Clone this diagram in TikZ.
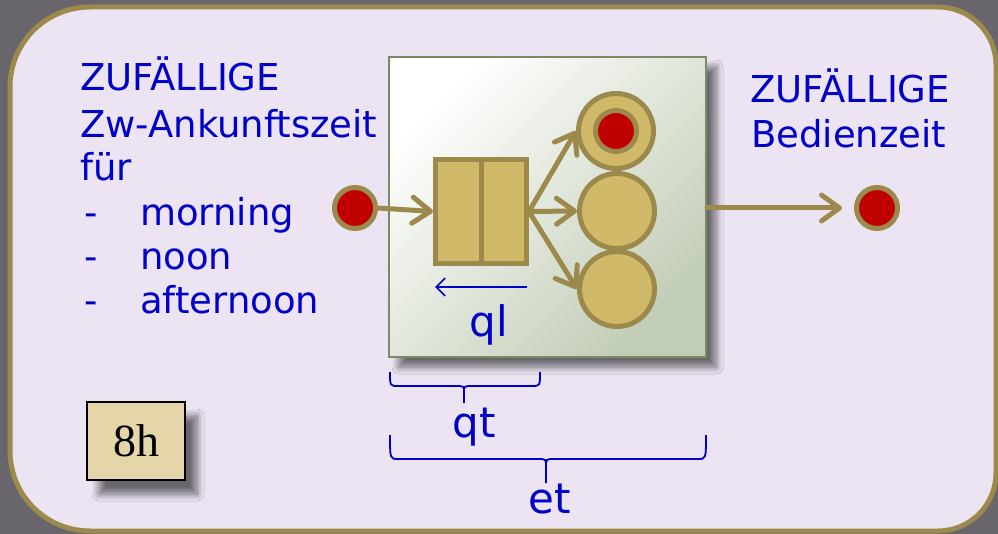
\documentclass[tikz,border=0pt]{standalone}
\usepackage{fontspec}
\newfontfamily\comic{DejaVu Sans}
\newfontfamily\tms{Liberation Serif}
\usetikzlibrary{arrows.meta,shadows.blur,calc}
\definecolor{bg}{RGB}{104,101,108}
\definecolor{panel}{RGB}{236,228,242}
\definecolor{olive}{RGB}{156,138,76}
\definecolor{gold}{RGB}{209,185,106}
\definecolor{dred}{RGB}{192,0,0}
\definecolor{tblue}{RGB}{0,0,200}
\definecolor{boxgreen}{RGB}{194,205,182}
\definecolor{boxmid}{RGB}{222,228,214}
\definecolor{boxedge}{RGB}{122,138,100}
\definecolor{tanbox}{RGB}{228,214,168}
\tikzset{
  lbl/.style={text=tblue, font=\comic\fontsize{37}{44}\selectfont, inner sep=0pt, anchor=base west},
  sym/.style={text=tblue, font=\comic\fontsize{42}{48}\selectfont, inner sep=0pt, anchor=base},
  dot/.style={circle, draw=olive, fill=dred, line width=5pt, minimum size=41pt, inner sep=0pt},
  server/.style={circle, draw=olive, fill=gold, line width=5pt, minimum size=75pt, inner sep=0pt},
  flow/.style={draw=olive, line width=5pt, line cap=round, -{Straight Barb[length=18pt,width=26pt,round]}},
  brc/.style={draw=tblue, line width=1.8pt},
}
\begin{document}
\begin{tikzpicture}[x=1pt,y=-1pt]
\useasboundingbox (0,0) rectangle (998,534);
\fill[bg] (0,0) rectangle (998,534);
\draw[draw=olive, fill=panel, line width=5pt]
  (10,87) arc[start angle=180, end angle=270, radius=80] -- (938,7)
  arc[start angle=270, end angle=360, x radius=58, y radius=58] -- (996,473)
  arc[start angle=0, end angle=90, radius=58] -- (90,531)
  arc[start angle=90, end angle=180, radius=80] -- cycle;

% main box
\node[draw=boxedge, line width=2pt, minimum width=317pt, minimum height=300pt, inner sep=0pt,
      top color=white, middle color=boxmid, bottom color=boxgreen, shading angle=45,
      blur shadow={shadow xshift=10pt, shadow yshift=-10pt, shadow blur steps=12, shadow blur radius=7pt, shadow opacity=55}]
      (box) at (547.5,207) {};

% queue
\node[draw=olive, fill=gold, line width=5pt, minimum width=91pt, minimum height=104pt, inner sep=0pt]
      (queue) at (481,211.5) {};
\draw[draw=olive, line width=5pt] (queue.north) -- (queue.south);

% servers
\node[server] (s3) at (617,289) {};
\node[server] (s2) at (617,211) {};
\node[server] (s1) at (616,131) {};
\node[dot] (job) at (616,131) {};

% input / output
\node[dot] (in) at (355,208) {};
\node[dot] (out) at (877,208) {};

\draw[flow] (in.east) -- (queue.west);
\draw[flow] (queue.east) -- (s1.west);
\draw[flow] (queue.east) -- (s2.west);
\draw[flow] (queue.east) -- (s3.west);
\draw[flow, shorten >=12pt] (box.east |- out) -- (out.west);

% ql arrow
\coordinate (qlr) at (527,287);
\coordinate (qll) at (435,287);
\draw[draw=tblue, line width=1.6pt, -{Straight Barb[length=9pt,width=18pt]}] (qlr) -- (qll);
\node[sym] (ql) at (489,337) {ql};

% left texts
\node[lbl] (l1) at (80,91) {ZUFÄLLIGE};
\node[lbl] (l2) at (80,138) {Zw-Ankunftszeit};
\node[lbl] (l3) at (80,181) {für};
\node[lbl] (b1) at (84,226) {-};
\node[lbl] (l4) at (140,226) {morning};
\node[lbl] (b2) at (84,270) {-};
\node[lbl] (l5) at (140,270) {noon};
\node[lbl] (b3) at (84,314) {-};
\node[lbl] (l6) at (140,314) {afternoon};

% right texts
\node[lbl] (r1) at (750,103) {ZUFÄLLIGE};
\node[lbl] (r2) at (751,148) {Bedienzeit};

% braces
\draw[brc] (390,372) .. controls (390,386) .. (398,386) -- (456,386) .. controls (464,386) .. (464,393) -- (464,403);
\draw[brc] (540,372) .. controls (540,386) .. (532,386) -- (472,386) .. controls (464,386) .. (464,393);
\node[sym] (qt) at (474,437) {qt};

\draw[brc] (390,435) .. controls (390,459) .. (398,459) -- (538,459) .. controls (546,459) .. (546,467) -- (546,483);
\draw[brc] (706,435) .. controls (706,459) .. (698,459) -- (554,459) .. controls (546,459) .. (546,467);
\node[sym] (et) at (550,513) {et};

% 8h box
\node[draw=black, line width=1.5pt, fill=tanbox, minimum width=98pt, minimum height=78pt, inner sep=0pt,
      font=\tms\fontsize{46}{50}\selectfont,
      blur shadow={shadow xshift=12pt, shadow yshift=-14pt, shadow blur steps=12, shadow blur radius=7pt, shadow opacity=55}]
      (hours) at (136,441) {8h};
\end{tikzpicture}
\end{document}
